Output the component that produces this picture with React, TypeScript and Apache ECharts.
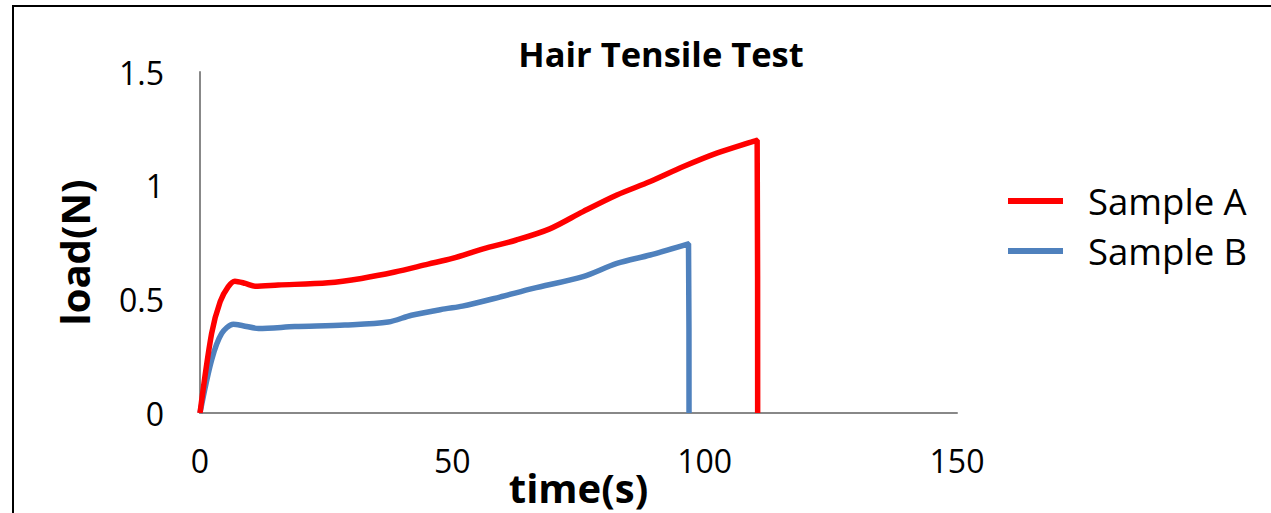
import React, { useEffect, useRef } from "react";
import * as echarts from "echarts";

const titleText = "Hair Tensile Test";
const xAxisName = "time(s)";
const yAxisName = "load(N)";
const seriesNames = ["Sample A", "Sample B"];

const timeA = [0, 2.3, 4.0, 5.6, 6.9, 9, 10.9, 15.5, 25.4, 32, 38.6, 45.2, 50, 56.1, 62.7, 69.3, 75.9, 82.6, 89.2, 95.8, 102.4, 110.4, 110.5];
const loadA = [0, 0.35, 0.49, 0.556, 0.58, 0.57, 0.558, 0.563, 0.573, 0.592, 0.62, 0.655, 0.68, 0.722, 0.761, 0.81, 0.886, 0.959, 1.018, 1.084, 1.143, 1.2, 0];

const timeB = [0, 2.3, 4.3, 6.6, 8.5, 11.6, 18.8, 28.7, 37.3, 41.9, 48.5, 52, 59.4, 66, 75.9, 82.6, 89.2, 96.8, 96.9];
const loadB = [0, 0.233, 0.35, 0.39, 0.384, 0.372, 0.38, 0.387, 0.4, 0.43, 0.458, 0.47, 0.51, 0.548, 0.6, 0.658, 0.695, 0.744, 0];

const xTicks = { min: 0, max: 150, interval: 50 };
const yTicks = { min: 0, max: 1.5, interval: 0.5 };

const colors = ["#FF0000", "#4F81BD"];

export default function App() {
  const ref = useRef<HTMLDivElement>(null);
  useEffect(() => {
    if (!ref.current) return;
    const chart = echarts.init(ref.current, null, { renderer: "svg" });
    const font = "'Open Sans', 'Noto Sans', sans-serif";
    const dataA = timeA.map((t, i) => [t, loadA[i]]);
    const dataB = timeB.map((t, i) => [t, loadB[i]]);
    chart.setOption({
      animation: false,
      backgroundColor: "#ffffff",
      textStyle: { fontFamily: font },
      title: {
        text: titleText,
        left: 661,
        top: 36,
        padding: 0,
        textAlign: "center",
        textStyle: { fontFamily: font, fontWeight: "bold", fontSize: 34.5, color: "#000" },
      },
      grid: { left: 200, top: 72, width: 757, height: 341, containLabel: false, outerBoundsMode: "none" },
      legend: {
        orient: "vertical",
        left: 1008,
        top: 179,
        padding: 0,
        itemWidth: 55,
        itemHeight: 6,
        itemGap: 6,
        icon: "rect",
        data: seriesNames,
        textStyle: { fontFamily: font, fontSize: 36.5, color: "#000", lineHeight: 44, padding: [0, 0, 0, 20] },
      },
      graphic: [
        {
          type: "rect",
          shape: { x: 13, y: 6, width: 1400, height: 700 },
          style: { fill: "none", stroke: "#000", lineWidth: 2 },
          silent: true,
        },
      ],
      xAxis: {
        type: "value",
        min: xTicks.min,
        max: xTicks.max,
        interval: xTicks.interval,
        name: xAxisName,
        nameLocation: "middle",
        nameGap: 52,
        nameMoveOverlap: false,
        nameTextStyle: { fontFamily: font, fontWeight: "bold", fontSize: 40, color: "#000", lineHeight: 44 },
        axisLine: { show: true, lineStyle: { color: "#888", width: 2 } },
        axisTick: { show: false },
        splitLine: { show: false },
        axisLabel: { fontFamily: font, fontSize: 32, color: "#000", margin: 31 },
      },
      yAxis: {
        type: "value",
        min: yTicks.min,
        max: yTicks.max,
        interval: yTicks.interval,
        name: yAxisName,
        nameLocation: "middle",
        nameGap: 104,
        nameRotate: 90,
        nameMoveOverlap: false,
        nameTextStyle: { fontFamily: font, fontWeight: "bold", fontSize: 40, color: "#000", lineHeight: 44, padding: [0, 20, 0, 0] },
        axisLine: { show: true, lineStyle: { color: "#888", width: 2 } },
        axisTick: { show: false },
        splitLine: { show: false },
        axisLabel: { fontFamily: font, fontSize: 32, color: "#000", margin: 36 },
      },
      series: [
        {
          name: seriesNames[0],
          type: "line",
          data: dataA,
          showSymbol: false,
          smooth: 0.3,
          lineStyle: { color: colors[0], width: 5.5 },
          itemStyle: { color: colors[0] },
          z: 3,
        },
        {
          name: seriesNames[1],
          type: "line",
          data: dataB,
          showSymbol: false,
          smooth: 0.3,
          lineStyle: { color: colors[1], width: 5.5 },
          itemStyle: { color: colors[1] },
          z: 2,
        },
      ],
    });
    return () => chart.dispose();
  }, []);
  return (
    <div
      ref={ref}
      style={{ position: "fixed", left: 0, top: 0, width: 1271, height: 513 }}
    />
  );
}
